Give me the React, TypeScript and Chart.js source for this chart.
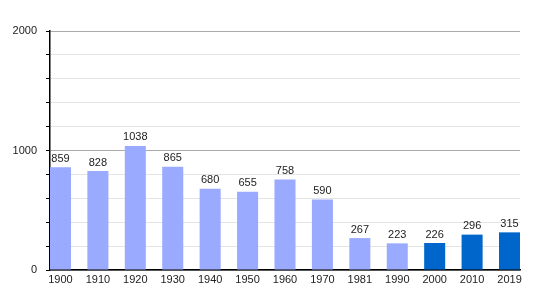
import React, { useEffect, useRef } from "react";
import { Chart, registerables } from "chart.js";

Chart.register(...registerables);

const years = ["1900", "1910", "1920", "1930", "1940", "1950", "1960", "1970", "1981", "1990", "2000", "2010", "2019"];
const population = [859, 828, 1038, 865, 680, 655, 758, 590, 267, 223, 226, 296, 315];
const isRecent = [false, false, false, false, false, false, false, false, false, false, true, true, true];
const yTickLabels = [0, 1000, 2000];

const LIGHT = "#99aaff";
const DARK = "#0066cc";
const FONT = "'Liberation Sans', Arial, sans-serif";

const valueLabels = {
  id: "valueLabels",
  afterDatasetsDraw(chart: any) {
    const ctx = chart.ctx;
    const meta = chart.getDatasetMeta(0);
    ctx.save();
    ctx.font = `11px ${FONT}`;
    ctx.fillStyle = "#222";
    ctx.textAlign = "center";
    ctx.textBaseline = "bottom";
    meta.data.forEach((el: any, i: number) => {
      ctx.fillText(String(population[i]), el.x, el.y - 3);
    });
    ctx.restore();
  },
};

export default function App() {
  const ref = useRef<HTMLCanvasElement>(null);
  useEffect(() => {
    document.body.style.margin = "0";
    const chart = new Chart(ref.current!, {
      type: "bar",
      data: {
        datasets: [
          {
            data: population.map((v, i) => ({ x: i, y: v })),
            backgroundColor: isRecent.map((r) => (r ? DARK : LIGHT)),
            borderWidth: 0,
            categoryPercentage: 1,
            barPercentage: 0.562,
          },
        ],
      },
      options: {
        animation: false,
        responsive: false,
        layout: { padding: { top: 31, right: 30, left: 0, bottom: 0 } },
        plugins: { legend: { display: false }, tooltip: { enabled: false } },
        scales: {
          x: {
            type: "linear",
            offset: false,
            min: -0.28,
            max: 12.28,
            afterFit: (s: any) => {
              s.height = 30;
            },
            grid: { display: false, drawTicks: false, offset: false },
            border: { display: true, color: "#000", width: 1.5 },
            ticks: {
              stepSize: 1,
              includeBounds: false,
              autoSkip: false,
              maxRotation: 0,
              padding: 3,
              color: "#222",
              font: { family: FONT, size: 11 },
              callback: (v: any) => (Number.isInteger(v) && v >= 0 && v < years.length ? years[v] : ""),
            },
          },
          y: {
            min: 0,
            max: 2000,
            afterFit: (s: any) => {
              s.width = 50;
            },
            border: { display: true, color: "#000", width: 1.5 },
            grid: {
              color: (c: any) => (c.tick && c.tick.value % 1000 === 0 ? "#aaaaaa" : "#e4e4e4"),
              tickColor: "#000",
              tickLength: 4,
              lineWidth: 1,
            },
            ticks: {
              stepSize: 200,
              padding: 9,
              color: "#222",
              font: { family: FONT, size: 11 },
              callback: (v: any) => (yTickLabels.includes(Number(v)) ? String(v) : ""),
            },
          },
        },
      },
      plugins: [valueLabels],
    });
    return () => chart.destroy();
  }, []);
  return <canvas ref={ref} width={550} height={300} style={{ display: "block" }} />;
}
